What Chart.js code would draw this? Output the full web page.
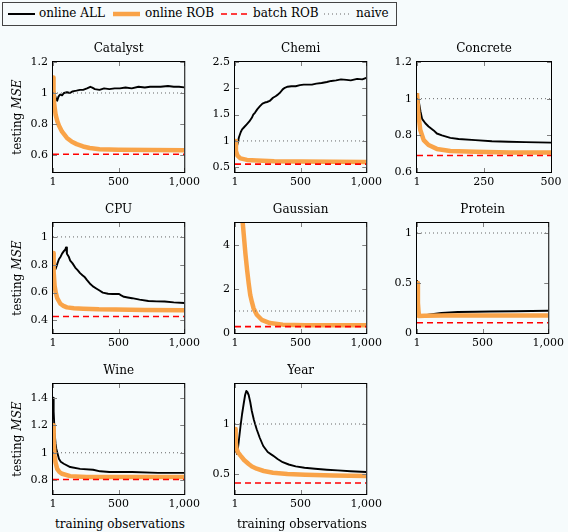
<!DOCTYPE html>
<html>
<head>
<meta charset="utf-8">
<script src="https://cdn.jsdelivr.net/npm/chart.js@4.4.1/dist/chart.umd.min.js"></script>
<style>
  body { margin: 0; width: 568px; height: 532px; background: #f6fbfc; position: relative; overflow: hidden;
         font-family: "DejaVu Serif", serif; color: #000; }
  canvas { position: absolute; }
  #legend { position: absolute; left: 2px; top: 2px; width: 393px; height: 22px; border: 1px solid #444; background: #f6fbfc; }
  #legend span, #legend svg { position: absolute; }
  #legend span { top: 3px; font-size: 12px; white-space: nowrap; }
  .ylab { position: absolute; font-size: 12px; white-space: nowrap; transform: translate(-50%, -50%) rotate(-90deg); }
  .xlab { position: absolute; font-size: 12px; white-space: nowrap; transform: translate(-50%, -50%); }
</style>
</head>
<body>
<div id="legend">
  <svg style="left:5px;top:0" width="27" height="22"><line x1="0" y1="11" x2="27" y2="11" stroke="#000" stroke-width="2"/></svg>
  <span style="left:36px">online ALL</span>
  <svg style="left:110px;top:0" width="27" height="22"><line x1="0" y1="11" x2="27" y2="11" stroke="#f9a348" stroke-width="4.5"/></svg>
  <span style="left:142px">online ROB</span>
  <svg style="left:218px;top:0" width="27" height="22"><line x1="0" y1="11" x2="27" y2="11" stroke="#ff0000" stroke-width="1.6" stroke-dasharray="6 4"/></svg>
  <span style="left:250px">batch ROB</span>
  <svg style="left:321px;top:0" width="27" height="22"><line x1="0" y1="11" x2="27" y2="11" stroke="#666" stroke-width="1" stroke-dasharray="1 3"/></svg>
  <span style="left:353px">naive</span>
</div>
<script>
// ---- data: [training observations, testing MSE] ----
const catalystAll = [[1,1.09],[8,1.02],[15,0.99],[25,0.96],[33,0.95],[42,0.975],[50,0.985],[57,0.99],[70,0.985],[85,1.0],[107,1.005],[130,1.0],[150,1.01],[180,1.015],[206,1.02],[230,1.02],[260,1.03],[285,1.04],[300,1.035],[320,1.025],[355,1.02],[390,1.03],[430,1.025],[470,1.03],[510,1.03],[553,1.035],[600,1.03],[652,1.04],[700,1.035],[740,1.04],[777,1.04],[820,1.04],[876,1.045],[920,1.04],[960,1.04],[1000,1.036]];
const catalystRob = [[1,1.1],[5,1.0],[10,0.93],[21,0.86],[33,0.82],[46,0.79],[70,0.75],[107,0.71],[145,0.685],[181,0.67],[230,0.655],[280,0.645],[355,0.637],[500,0.634],[750,0.632],[1000,0.63]];

const chemiAll = [[1,0.9],[18,0.92],[31,1.07],[45,1.17],[55,1.22],[70,1.26],[92,1.32],[110,1.37],[129,1.44],[140,1.5],[154,1.54],[170,1.6],[191,1.66],[210,1.71],[228,1.73],[245,1.74],[265,1.76],[290,1.82],[310,1.85],[327,1.88],[345,1.92],[364,1.98],[380,2.01],[401,2.03],[430,2.04],[463,2.04],[495,2.06],[524,2.07],[555,2.07],[586,2.07],[620,2.09],[660,2.1],[700,2.12],[734,2.14],[770,2.15],[808,2.17],[850,2.16],[882,2.15],[931,2.18],[970,2.17],[1000,2.2]];
const chemiRob = [[1,1.0],[8,0.81],[20,0.72],[42,0.67],[92,0.64],[166,0.63],[300,0.615],[500,0.61],[750,0.605],[1000,0.6]];

const concreteAll = [[1,1.03],[7,0.99],[14,0.93],[20,0.89],[32,0.866],[44,0.848],[63,0.827],[75,0.81],[94,0.8],[125,0.786],[156,0.78],[218,0.774],[280,0.768],[342,0.765],[404,0.763],[500,0.76]];
const concreteRob = [[1,1.03],[6,0.92],[13,0.83],[26,0.774],[44,0.747],[75,0.726],[125,0.715],[218,0.71],[350,0.707],[500,0.706]];

const cpuAll = [[1,0.8],[21,0.77],[35,0.81],[46,0.84],[60,0.86],[70,0.88],[85,0.9],[95,0.91],[100,0.925],[107,0.88],[120,0.86],[132,0.83],[150,0.81],[170,0.78],[190,0.76],[207,0.74],[225,0.725],[244,0.71],[260,0.69],[281,0.666],[305,0.645],[330,0.63],[355,0.615],[380,0.6],[420,0.592],[454,0.59],[504,0.59],[520,0.58],[541,0.57],[570,0.565],[603,0.56],[660,0.55],[727,0.54],[790,0.537],[851,0.536],[920,0.53],[1000,0.525]];
const cpuRob = [[1,0.885],[6,0.75],[13,0.65],[22,0.6],[33,0.56],[57,0.52],[80,0.505],[107,0.494],[160,0.488],[231,0.485],[350,0.48],[479,0.478],[700,0.475],[1000,0.473]];

const gaussianAll = [];
const gaussianRob = [[55,5.4],[60,5.0],[68,4.45],[80,3.62],[93,2.87],[105,2.26],[117,1.73],[130,1.4],[142,1.13],[167,0.83],[204,0.6],[266,0.45],[365,0.38],[538,0.35],[1000,0.35]];

const proteinAll = [[1,0.53],[10,0.3],[21,0.166],[50,0.172],[88,0.182],[130,0.19],[187,0.2],[250,0.205],[311,0.21],[450,0.213],[560,0.215],[750,0.218],[1000,0.222]];
const proteinRob = [[1,0.5],[8,0.3],[15,0.17],[60,0.172],[200,0.175],[1000,0.176]];

const wineAll = [[1,1.4],[6,1.3],[13,1.15],[20,1.07],[26,1.03],[46,0.956],[60,0.935],[83,0.92],[132,0.896],[207,0.883],[306,0.876],[360,0.865],[430,0.86],[603,0.86],[801,0.854],[1000,0.854]];
const wineRob = [[1,1.2],[6,1.08],[13,0.98],[20,0.93],[33,0.883],[50,0.86],[70,0.847],[132,0.83],[256,0.823],[1000,0.823]];

const yearAll = [[1,0.75],[18,0.7],[30,0.83],[43,0.98],[55,1.1],[68,1.21],[78,1.29],[87,1.33],[95,1.32],[105,1.29],[117,1.22],[129,1.13],[145,1.04],[166,0.947],[190,0.86],[216,0.78],[250,0.72],[290,0.684],[325,0.65],[364,0.618],[410,0.595],[463,0.576],[530,0.562],[610,0.553],[700,0.543],[783,0.536],[880,0.528],[1000,0.52]];
const yearRob = [[1,0.95],[6,0.82],[13,0.75],[25,0.715],[43,0.684],[70,0.64],[105,0.6],[130,0.575],[166,0.553],[220,0.53],[290,0.513],[400,0.5],[537,0.493],[750,0.486],[1000,0.48]];

const titles = ['Catalyst', 'Chemi', 'Concrete', 'CPU', 'Gaussian', 'Protein', 'Wine', 'Year'];
const batchRob = [0.605, 0.56, 0.69, 0.428, 0.29, 0.103, 0.806, 0.41];
const naive = 1;
const xTicks = [[1,500,1000],[1,500,1000],[1,250,500],[1,500,1000],[1,500,1000],[1,500,1000],[1,500,1000],[1,500,1000]];
const xTickLabels = [['1','500','1,000'],['1','500','1,000'],['1','250','500'],['1','500','1,000'],['1','500','1,000'],['1','500','1,000'],['1','500','1,000'],['1','500','1,000']];
const yTicks = [[0.6,0.8,1,1.2],[0.5,1,1.5,2,2.5],[0.6,0.8,1,1.2],[0.4,0.6,0.8,1],[0,2,4],[0,0.5,1],[0.8,1,1.2,1.4],[0.5,1]];
const yRanges = [[0.49,1.2],[0.41,2.5],[0.6,1.2],[0.31,1.1],[0,5],[0,1.1],[0.7,1.5],[0.3,1.4]];
const onlineAll = [catalystAll, chemiAll, concreteAll, cpuAll, gaussianAll, proteinAll, wineAll, yearAll];
const onlineRob = [catalystRob, chemiRob, concreteRob, cpuRob, gaussianRob, proteinRob, wineRob, yearRob];

// ---- layout ----
const FONT = '"DejaVu Serif", serif';
const colLeft = [53, 235, 417];
const rowTop = [62, 223, 384];
const plotW = 134, plotH = 110;
const YW = 45, XH = 22, TP = 24, RP = 17;

// frame, inward ticks on all four sides, panel title
const framePlugin = {
  id: 'frame',
  afterDraw(chart) {
    const { ctx, chartArea: a, scales: { x, y } } = chart;
    ctx.save();
    ctx.strokeStyle = '#808080';
    ctx.lineWidth = 1;
    ctx.beginPath();
    x.ticks.forEach(t => {
      const px = Math.round(x.getPixelForValue(t.value)) + 0.5;
      ctx.moveTo(px, a.bottom); ctx.lineTo(px, a.bottom - 4);
      ctx.moveTo(px, a.top); ctx.lineTo(px, a.top + 4);
    });
    y.ticks.forEach(t => {
      const py = Math.round(y.getPixelForValue(t.value)) + 0.5;
      ctx.moveTo(a.left, py); ctx.lineTo(a.left + 4, py);
      ctx.moveTo(a.right, py); ctx.lineTo(a.right - 4, py);
    });
    ctx.stroke();
    ctx.strokeStyle = '#000';
    ctx.strokeRect(a.left - 0.5, a.top - 0.5, a.width + 1, a.height + 1);
    ctx.fillStyle = '#000';
    ctx.font = '12px ' + FONT;
    ctx.textAlign = 'center';
    ctx.textBaseline = 'alphabetic';
    ctx.fillText(chart.options.plugins.frame.title, (a.left + a.right) / 2, a.top - 10);
    ctx.restore();
  }
};

const toPts = arr => arr.map(p => ({ x: p[0], y: p[1] }));

titles.forEach((title, i) => {
  const col = i % 3, row = Math.floor(i / 3);
  const xMax = xTicks[i][xTicks[i].length - 1];
  const cv = document.createElement('canvas');
  cv.width = YW + plotW + RP;
  cv.height = TP + plotH + XH;
  cv.style.left = (colLeft[col] - YW) + 'px';
  cv.style.top = (rowTop[row] - TP) + 'px';
  document.body.appendChild(cv);

  new Chart(cv, {
    type: 'line',
    data: {
      datasets: [
        { label: 'naive', data: toPts([[1, naive], [xMax, naive]]), borderColor: '#666', borderWidth: 1, borderDash: [1, 3], order: 0 },
        { label: 'batch ROB', data: toPts([[1, batchRob[i]], [xMax, batchRob[i]]]), borderColor: '#ff0000', borderWidth: 1.6, borderDash: [6, 4], order: 1 },
        { label: 'online ROB', data: toPts(onlineRob[i]), borderColor: '#f9a348', borderWidth: 4.5, order: 2 },
        { label: 'online ALL', data: toPts(onlineAll[i]), borderColor: '#000', borderWidth: 1.9, order: 3 }
      ]
    },
    options: {
      responsive: false,
      animation: false,
      devicePixelRatio: 1,
      events: [],
      datasets: { line: { clip: 0 } },
      elements: { point: { radius: 0 }, line: { tension: 0, borderJoinStyle: 'round', fill: false } },
      layout: { padding: { left: 0, right: RP, top: TP, bottom: 0 } },
      plugins: { legend: { display: false }, tooltip: { enabled: false }, frame: { title: title } },
      scales: {
        x: {
          type: 'linear', min: 1, max: xMax,
          afterBuildTicks: s => { s.ticks = xTicks[i].map(v => ({ value: v })); },
          afterFit: s => { s.height = XH; },
          grid: { display: false, drawTicks: false },
          border: { display: false },
          ticks: { autoSkip: false, maxRotation: 0, padding: 4, color: '#000', font: { family: FONT, size: 11 },
                   callback: (v, k) => xTickLabels[i][k] }
        },
        y: {
          type: 'linear', min: yRanges[i][0], max: yRanges[i][1],
          afterBuildTicks: s => { s.ticks = yTicks[i].map(v => ({ value: v })); },
          afterFit: s => { s.width = YW; },
          grid: { display: false, drawTicks: false },
          border: { display: false },
          ticks: { autoSkip: false, padding: 5, color: '#000', font: { family: FONT, size: 11 },
                   callback: v => String(v) }
        }
      }
    },
    plugins: [framePlugin]
  });
});

// axis titles
rowTop.forEach(t => {
  const d = document.createElement('div');
  d.className = 'ylab';
  d.innerHTML = 'testing <i>MSE</i>';
  d.style.left = '17px';
  d.style.top = (t + plotH / 2) + 'px';
  document.body.appendChild(d);
});
[0, 1].forEach(c => {
  const d = document.createElement('div');
  d.className = 'xlab';
  d.textContent = 'training observations';
  d.style.left = (colLeft[c] + plotW / 2) + 'px';
  d.style.top = '524px';
  document.body.appendChild(d);
});
</script>
</body>
</html>
